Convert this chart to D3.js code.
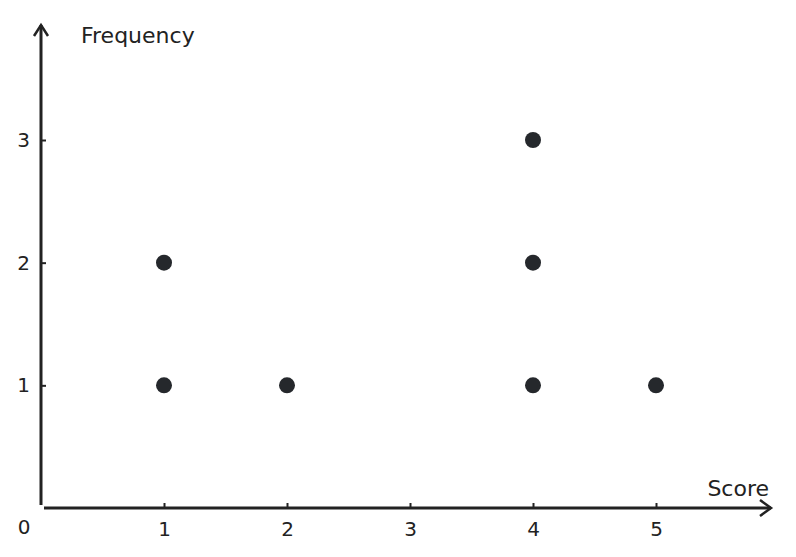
<!DOCTYPE html>
<html>
<head>
<meta charset="utf-8">
<script src="https://cdn.jsdelivr.net/npm/d3@7"></script>
<style>
  body { margin: 0; background: #fff; }
  text { font-family: "DejaVu Sans", sans-serif; fill: #222; }
</style>
</head>
<body>
<div id="chart"></div>
<script>
var width = 796, height = 557;
var ink = '#222222';
var dot_fill = '#25282c';
var fsize = 20;

// one entry per dot: score on x, stack position on y
var scores = [1, 1, 2, 4, 4, 4, 5];
var freqs  = [1, 2, 1, 1, 2, 3, 1];
var x_ticks = [1, 2, 3, 4, 5];
var y_ticks = [1, 2, 3];

var svg = d3.select('#chart').append('svg')
    .attr('width', width)
    .attr('height', height);

var x = d3.scaleLinear().domain([0, 5]).range([41, 656]);
var y = d3.scaleLinear().domain([0, 3]).range([508, 140]);

// ticks (pointing inward) via d3 axes
var xAxis = svg.append('g')
    .attr('transform', 'translate(0,' + y(0) + ')')
    .call(d3.axisBottom(x).tickValues(x_ticks).tickFormat(d3.format('d'))
        .tickSize(-5).tickPadding(14));
var yAxis = svg.append('g')
    .attr('transform', 'translate(' + x(0) + ',0)')
    .call(d3.axisLeft(y).tickValues(y_ticks).tickFormat(d3.format('d'))
        .tickSize(-5).tickPadding(11));

[xAxis, yAxis].forEach(function(g){
    g.select('.domain').remove();
    g.selectAll('.tick line').attr('stroke', ink).attr('stroke-width', 2);
    g.selectAll('.tick text')
        .attr('font-size', fsize)
        .attr('font-family', 'DejaVu Sans')
        .style('fill', ink);
});

// axis lines with open arrow heads
var ax = svg.append('g')
    .attr('stroke', ink)
    .attr('stroke-width', 3)
    .attr('fill', 'none')
    .attr('stroke-linecap', 'butt');
ax.append('line').attr('x1', x(0) + 3).attr('y1', y(0)).attr('x2', 771).attr('y2', y(0));
ax.append('path').attr('d', d3.line()([[760, y(0) - 8], [771, y(0)], [760, y(0) + 8]]))
    .attr('stroke-width', 2.5);
ax.append('line').attr('x1', x(0)).attr('y1', y(0) - 3).attr('x2', x(0)).attr('y2', 25);
ax.append('path').attr('d', d3.line()([[x(0) - 7, 36], [x(0), 25], [x(0) + 7, 36]]))
    .attr('stroke-width', 2.5);

// origin label
svg.append('text')
    .attr('x', 24).attr('y', y(0) + 26)
    .attr('text-anchor', 'middle')
    .attr('font-size', fsize)
    .text('0');

// axis titles
svg.append('text')
    .attr('x', 81).attr('y', 43)
    .attr('font-size', 22)
    .text('Frequency');
svg.append('text')
    .attr('x', 769).attr('y', 496)
    .attr('text-anchor', 'end')
    .attr('font-size', 22)
    .text('Score');

// dots
svg.selectAll('circle.dot')
    .data(scores)
    .enter()
    .append('circle')
    .attr('class', 'dot')
    .attr('cx', function(d){ return x(d); })
    .attr('cy', function(d, i){ return y(freqs[i]); })
    .attr('r', 8)
    .style('fill', dot_fill);
</script>
</body>
</html>
